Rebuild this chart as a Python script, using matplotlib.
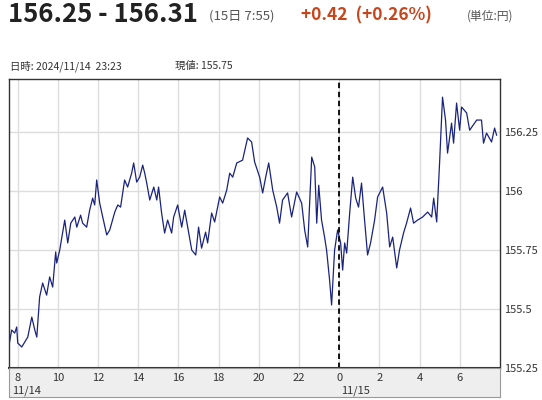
import numpy as np
import matplotlib.pyplot as plt

plt.rcParams['font.family'] = ['Noto Sans CJK JP', 'DejaVu Sans']

# hours since 11/14 00:00, price
hours = [7.55, 7.70, 7.85, 7.95, 8.00, 8.20, 8.35, 8.50, 8.70, 8.85, 8.95, 9.09, 9.24, 9.44, 9.59, 9.74,
         9.89, 9.94, 10.09, 10.34, 10.49, 10.64, 10.84, 10.94, 11.13, 11.23, 11.43, 11.58, 11.73, 11.83,
         11.93, 12.08, 12.23, 12.43, 12.58, 12.83, 12.98, 13.12, 13.32, 13.47, 13.67, 13.77, 13.92, 14.07,
         14.22, 14.32, 14.42, 14.57, 14.77, 14.92, 15.01, 15.16, 15.31, 15.46, 15.66, 15.76, 15.96, 16.16,
         16.31, 16.46, 16.66, 16.86, 17.00, 17.15, 17.35, 17.45, 17.65, 17.80, 18.05, 18.20, 18.40, 18.55,
         18.70, 18.90, 19.19, 19.44, 19.64, 19.79, 20.04, 20.19, 20.34, 20.49, 20.69, 20.89, 21.03, 21.18,
         21.43, 21.63, 21.88, 22.13, 22.28, 22.43, 22.63, 22.78, 22.88, 22.98, 23.12, 23.27, 23.37, 23.52,
         23.62, 23.77, 23.92, 24.07, 24.17, 24.27, 24.37, 24.52, 24.67, 24.82, 24.96, 25.11, 25.26, 25.41,
         25.56, 25.76, 25.91, 26.16, 26.36, 26.51, 26.66, 26.86, 27.00, 27.20, 27.35, 27.55, 27.70, 27.90,
         28.15, 28.40, 28.60, 28.70, 28.85, 29.00, 29.14, 29.29, 29.39, 29.59, 29.69, 29.84, 29.99, 30.09,
         30.34, 30.49, 30.84, 31.08, 31.18, 31.33, 31.58, 31.73, 31.83]
prices = [155.339, 155.411, 155.398, 155.424, 155.356, 155.339, 155.360, 155.381, 155.466, 155.411,
          155.381, 155.551, 155.610, 155.559, 155.636, 155.593, 155.742, 155.695, 155.750, 155.877,
          155.780, 155.864, 155.890, 155.847, 155.898, 155.864, 155.847, 155.919, 155.970, 155.941,
          156.047, 155.949, 155.890, 155.814, 155.835, 155.911, 155.941, 155.932, 156.047, 156.017,
          156.076, 156.119, 156.038, 156.059, 156.110, 156.076, 156.034, 155.962, 156.017, 155.962,
          156.017, 155.907, 155.822, 155.877, 155.822, 155.890, 155.941, 155.847, 155.919, 155.847,
          155.750, 155.729, 155.847, 155.758, 155.826, 155.780, 155.907, 155.869, 155.975, 155.949,
          156.004, 156.076, 156.059, 156.119, 156.131, 156.225, 156.208, 156.123, 156.059, 155.992,
          156.059, 156.119, 156.004, 155.932, 155.864, 155.962, 155.992, 155.890, 155.996, 155.949,
          155.835, 155.763, 156.144, 156.102, 155.864, 156.025, 155.877, 155.805, 155.750, 155.623,
          155.517, 155.750, 155.835, 155.780, 155.665, 155.780, 155.737, 155.907, 156.059, 155.970,
          155.932, 156.034, 155.877, 155.729, 155.780, 155.877, 155.975, 156.017, 155.907, 155.763,
          155.805, 155.674, 155.750, 155.822, 155.864, 155.928, 155.864, 155.877, 155.890, 155.911,
          155.890, 155.970, 155.869, 156.131, 156.398, 156.301, 156.161, 156.288, 156.203, 156.373,
          156.258, 156.356, 156.331, 156.258, 156.301, 156.301, 156.203, 156.246, 156.208, 156.267,
          156.237]

xticks = [8, 10, 12, 14, 16, 18, 20, 22, 24, 26, 28, 30]
xlabels = ['8', '10', '12', '14', '16', '18', '20', '22', '0', '2', '4', '6']
yticks = [155.25, 155.5, 155.75, 156, 156.25]
ylabels = ['155.25', '155.5', '155.75', '156', '156.25']

fig = plt.figure(figsize=(5.42, 4.0), dpi=100)
ax = fig.add_axes([0.016, 0.08, 0.9065, 0.7225])
ax.plot(hours, prices, color='#1a237e', linewidth=0.9)
ax.axvline(24, color='black', linestyle=(0, (3, 2)), linewidth=1.3)
ax.set_xlim(7.55, 32.0)
ax.set_ylim(155.25, 156.475)
ax.set_xticks(xticks)
ax.set_xticklabels([])
ax.set_yticks(yticks)
ax.set_yticklabels(ylabels, fontsize=8, color='#333333')
ax.yaxis.tick_right()
ax.tick_params(length=0, pad=3)
ax.grid(True, color='#dddddd', linewidth=1)
ax.set_axisbelow(True)
for s in ax.spines.values():
    s.set_color('#333333')
    s.set_linewidth(1)
ax.spines['bottom'].set_linewidth(1.5)

# gray time band below
band = fig.add_axes([0.016, 0.008, 0.9065, 0.072])
band.set_facecolor('#eeeeee')
band.set_xlim(7.55, 32.0)
band.set_ylim(0, 1)
band.set_xticks([]); band.set_yticks([])
for s in band.spines.values():
    s.set_color('#999999')
for t, lab in zip(xticks, xlabels):
    band.text(t, 0.64, lab, ha='center', va='center', fontsize=8, color='#333333')
band.text(7.7, 0.2, '11/14', ha='left', va='center', fontsize=8, color='#333333')
band.text(24.8, 0.2, '11/15', ha='center', va='center', fontsize=8, color='#333333')

fig.text(0.014, 0.965, '156.25 - 156.31', fontsize=18.5, fontweight='bold', color='#222222', va='center')
fig.text(0.385, 0.96, '(15日 7:55)', fontsize=9.5, color='#555555', va='center')
fig.text(0.556, 0.962, '+0.42  (+0.26%)', fontsize=12.5, fontweight='bold', color='#c8451c', va='center')
fig.text(0.862, 0.96, '(単位:円)', fontsize=8.5, color='#555555', va='center')
fig.text(0.018, 0.835, '日時: 2024/11/14  23:23', fontsize=7.5, color='#333333', va='center')
fig.text(0.323, 0.835, '現値: 155.75', fontsize=7.5, color='#333333', va='center')

fig.savefig('out.png', dpi=100)
